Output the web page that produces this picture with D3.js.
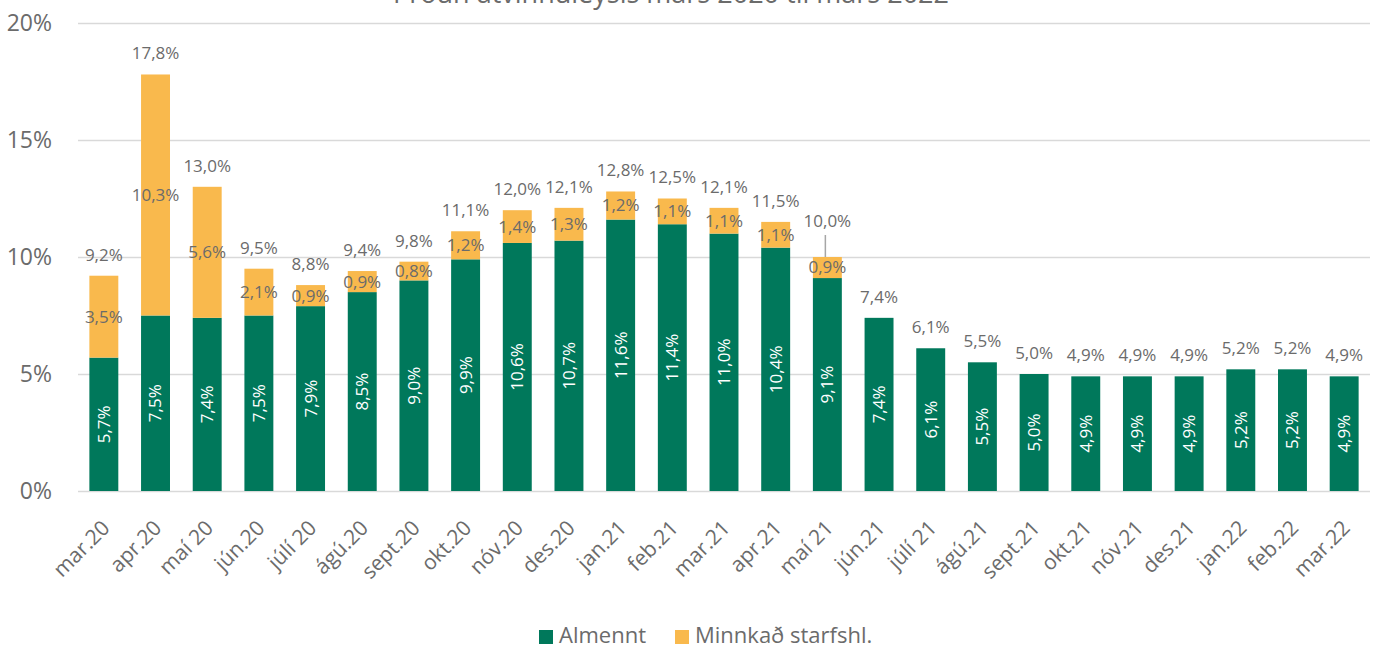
<!DOCTYPE html>
<html>
<head>
<meta charset="utf-8">
<script src="https://cdn.jsdelivr.net/npm/d3@7"></script>
<style>
  body { margin: 0; background: #fff; }
  svg { display: block; font-family: "Open Sans", sans-serif; }
</style>
</head>
<body>
<div id="chart"></div>
<script>
// months, mar 2020 - mar 2022
const months = ["mar.20", "apr.20", "maí 20", "jún.20", "júlí 20", "ágú.20", "sept.20", "okt.20", "nóv.20", "des.20",
  "jan.21", "feb.21", "mar.21", "apr.21", "maí 21", "jún.21", "júlí 21", "ágú.21", "sept.21", "okt.21",
  "nóv.21", "des.21", "jan.22", "feb.22", "mar.22"];
const almennt = [5.7, 7.5, 7.4, 7.5, 7.9, 8.5, 9.0, 9.9, 10.6, 10.7, 11.6, 11.4, 11.0, 10.4, 9.1, 7.4, 6.1, 5.5, 5.0, 4.9, 4.9, 4.9, 5.2, 5.2, 4.9];
const minnkad = [3.5, 10.3, 5.6, 2.1, 0.9, 0.9, 0.8, 1.2, 1.4, 1.3, 1.2, 1.1, 1.1, 1.1, 0.9, 0, 0, 0, 0, 0, 0, 0, 0, 0, 0];
const total = [9.2, 17.8, 13.0, 9.5, 8.8, 9.4, 9.8, 11.1, 12.0, 12.1, 12.8, 12.5, 12.1, 11.5, 10.0, 7.4, 6.1, 5.5, 5.0, 4.9, 4.9, 4.9, 5.2, 5.2, 4.9];
const yTicks = [0, 5, 10, 15, 20];
const seriesNames = ["Almennt", "Minnkað starfshl."];

const width = 1375, height = 648;
const margin = {top: 23, right: 5, bottom: 157, left: 78};
const green = "#00785b", orange = "#f9b94d", textGray = "#6b6b6b", gridGray = "#d9d9d9";
const fmt = v => v.toFixed(1).replace(".", ",") + "%";

const svg = d3.select("#chart").append("svg")
    .attr("width", width)
    .attr("height", height);

const x = d3.scaleBand()
    .domain(months)
    .range([margin.left, width - margin.right])
    .paddingInner(0.44)
    .paddingOuter(0.22);

const y = d3.scaleLinear()
    .domain([0, 20])
    .range([height - margin.bottom, margin.top]);

// title (partly outside the view, as in the original)
svg.append("text")
    .attr("x", 671)
    .attr("y", 3)
    .attr("text-anchor", "middle")
    .attr("font-size", 27)
    .attr("fill", textGray)
    .text("Þróun atvinnuleysis mars 2020 til mars 2022");

// y axis + grid
const yAxis = d3.axisLeft(y)
    .tickValues(yTicks)
    .tickSize(-(width - margin.right - margin.left))
    .tickPadding(26)
    .tickFormat(d => d + "%");

svg.append("g")
    .attr("transform", `translate(${margin.left},0)`)
    .call(yAxis)
    .call(g => g.select(".domain").remove())
    .call(g => g.selectAll(".tick line").attr("stroke", gridGray).attr("stroke-width", 1.5))
    .call(g => g.selectAll(".tick text")
        .attr("fill", textGray)
        .attr("font-size", 23)
        .attr("font-family", "Open Sans, sans-serif"));

// bars
const rows = months.map((m, i) => ({m, a: almennt[i], b: minnkad[i], t: total[i]}));
const bw = x.bandwidth();

svg.append("g").selectAll("rect")
    .data(rows)
    .join("rect")
    .attr("x", d => x(d.m))
    .attr("width", bw)
    .attr("y", d => y(d.a))
    .attr("height", d => y(0) - y(d.a))
    .attr("fill", green);

svg.append("g").selectAll("rect")
    .data(rows.filter(d => d.b > 0))
    .join("rect")
    .attr("x", d => x(d.m))
    .attr("width", bw)
    .attr("y", d => y(d.t))
    .attr("height", d => y(d.a) - y(d.t))
    .attr("fill", orange);

// labels inside green bars (rotated)
svg.append("g").selectAll("text")
    .data(rows)
    .join("text")
    .attr("transform", d => `translate(${x(d.m) + bw / 2},${(y(0) + y(d.a)) / 2}) rotate(-90)`)
    .attr("text-anchor", "middle")
    .attr("dy", "0.35em")
    .attr("font-size", 17)
    .attr("fill", "#fff")
    .text(d => fmt(d.a));

// labels in orange segments
svg.append("g").selectAll("text")
    .data(rows.filter(d => d.b > 0))
    .join("text")
    .attr("x", d => x(d.m) + bw / 2)
    .attr("y", d => (y(d.a) + y(d.t)) / 2)
    .attr("text-anchor", "middle")
    .attr("dy", "0.35em")
    .attr("font-size", 17)
    .attr("fill", textGray)
    .text(d => fmt(d.b));

// total labels above bars; one is lifted with a leader line
const lifted = "maí 21";
const lift = 15;
svg.append("g").selectAll("text")
    .data(rows)
    .join("text")
    .attr("x", d => x(d.m) + bw / 2)
    .attr("y", d => y(d.t) - 21 - (d.m === lifted ? lift : 0))
    .attr("text-anchor", "middle")
    .attr("dy", "0.35em")
    .attr("font-size", 17)
    .attr("fill", textGray)
    .text(d => fmt(d.t));

const lr = rows.find(d => d.m === lifted);
svg.append("line")
    .attr("x1", x(lr.m) + bw / 2 - 2)
    .attr("x2", x(lr.m) + bw / 2 - 2)
    .attr("y1", y(lr.t) - 21 - lift + 14)
    .attr("y2", y(lr.t))
    .attr("stroke", "#a6a6a6")
    .attr("stroke-width", 1.5);

// x axis
const xAxis = d3.axisBottom(x).tickSize(0).tickPadding(0);
svg.append("g")
    .attr("transform", `translate(0,${y(0)})`)
    .call(xAxis)
    .call(g => g.select(".domain").remove())
    .call(g => g.selectAll(".tick text")
        .attr("fill", textGray)
        .attr("font-size", 21)
        .attr("font-family", "Open Sans, sans-serif")
        .attr("text-anchor", "end")
        .attr("dy", "0.35em")
        .attr("transform", "translate(2,33) rotate(-45)"));

// legend
const legend = svg.append("g");
const legendItems = [
  {name: seriesNames[0], color: green, x: 539},
  {name: seriesNames[1], color: orange, x: 675}
];
legend.selectAll("rect")
    .data(legendItems)
    .join("rect")
    .attr("x", d => d.x)
    .attr("y", 630)
    .attr("width", 14)
    .attr("height", 14)
    .attr("fill", d => d.color);
legend.selectAll("text")
    .data(legendItems)
    .join("text")
    .attr("x", d => d.x + 20)
    .attr("y", 635)
    .attr("dy", "0.35em")
    .attr("font-size", 22)
    .attr("fill", textGray)
    .text(d => d.name);
</script>
</body>
</html>
